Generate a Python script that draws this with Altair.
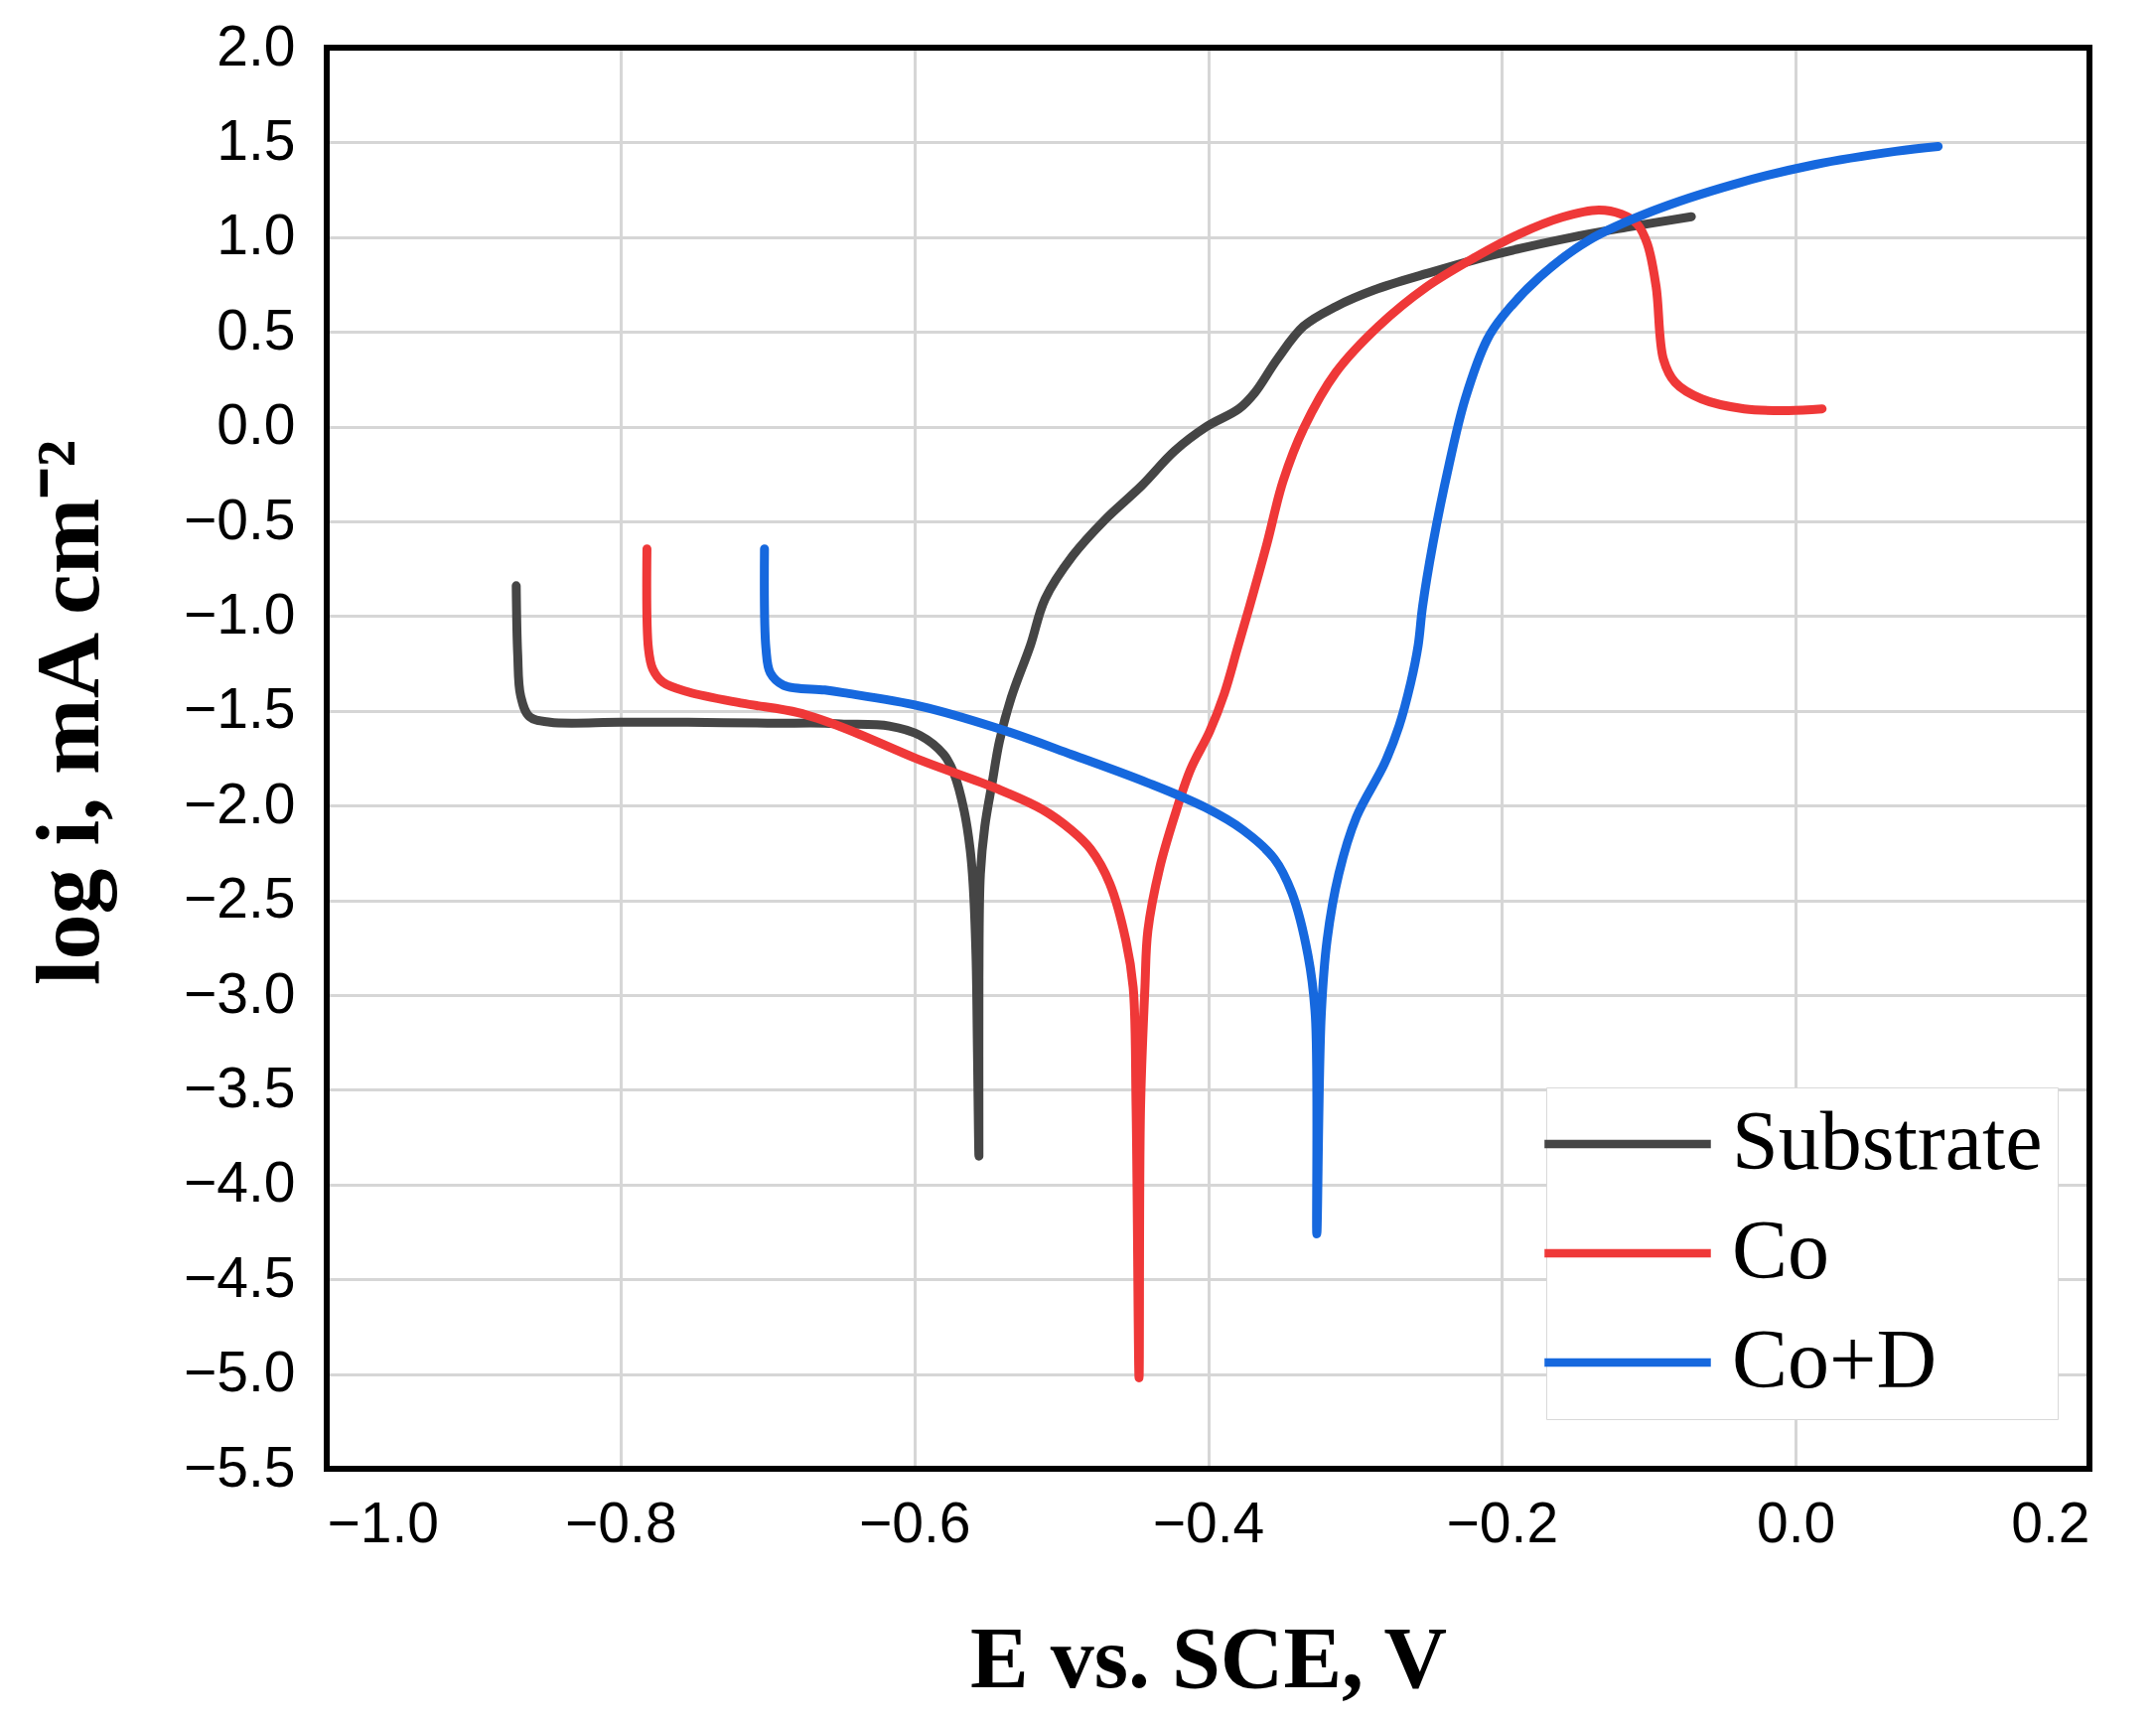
import altair as alt
import pandas as pd

series_names = ["Substrate", "Co", "Co+D"]
series_colors = ["#454545", "#ef3838", "#1668de"]

sub_x = [-0.871, -0.870, -0.868, -0.862, -0.848, -0.800, -0.754, -0.700, -0.661, -0.648, -0.617, -0.596,
         -0.580, -0.573, -0.566, -0.562, -0.560, -0.558, -0.557, -0.556, -0.556, -0.555, -0.552, -0.547,
         -0.542, -0.534, -0.521, -0.511, -0.492, -0.470, -0.445, -0.423, -0.401, -0.379, -0.368, -0.353,
         -0.335, -0.313, -0.287, -0.251, -0.207, -0.152, -0.115, -0.071]
sub_y = [-0.84, -1.20, -1.42, -1.53, -1.56, -1.56, -1.56, -1.565, -1.565, -1.57, -1.58, -1.63,
         -1.73, -1.83, -2.03, -2.23, -2.41, -2.79, -3.30, -3.85, -2.91, -2.36, -2.11, -1.88,
         -1.66, -1.43, -1.155, -0.91, -0.68, -0.49, -0.31, -0.13, 0.0, 0.094, 0.181, 0.355,
         0.530, 0.634, 0.721, 0.808, 0.904, 1.000, 1.052, 1.108]

co_x = [-0.782, -0.781, -0.778, -0.771, -0.754, -0.717, -0.679, -0.648, -0.596, -0.544, -0.513, -0.493,
        -0.480, -0.467, -0.456, -0.451, -0.449, -0.447, -0.446, -0.443, -0.441, -0.433, -0.423, -0.412,
        -0.399, -0.389, -0.380, -0.370, -0.360, -0.349, -0.335, -0.313, -0.284, -0.251, -0.218, -0.188,
        -0.159, -0.134, -0.119, -0.108, -0.101, -0.095, -0.090, -0.082, -0.064, -0.035, -0.005, 0.018]
co_y = [-0.645, -1.17, -1.28, -1.35, -1.40, -1.46, -1.51, -1.59, -1.76, -1.91, -2.02, -2.13,
        -2.23, -2.41, -2.71, -2.96, -3.60, -5.02, -3.60, -2.96, -2.66, -2.33, -2.06, -1.81,
        -1.61, -1.41, -1.17, -0.90, -0.62, -0.289, -0.010, 0.286, 0.530, 0.739, 0.895, 1.017,
        1.105, 1.143, 1.122, 1.070, 0.965, 0.739, 0.355, 0.233, 0.146, 0.094, 0.085, 0.094]

cod_x = [-0.702, -0.701, -0.698, -0.689, -0.661, -0.648, -0.596, -0.544, -0.493, -0.441, -0.402, -0.376,
         -0.355, -0.343, -0.332, -0.327, -0.326, -0.323, -0.319, -0.311, -0.299, -0.280, -0.270, -0.262,
         -0.257, -0.254, -0.247, -0.236, -0.225, -0.210, -0.1995, -0.174, -0.141, -0.097, -0.042, 0.013,
         0.068, 0.097]
cod_y = [-0.645, -1.17, -1.30, -1.365, -1.39, -1.405, -1.475, -1.59, -1.73, -1.88, -2.01, -2.13,
         -2.28, -2.46, -2.79, -3.11, -4.26, -3.11, -2.71, -2.36, -2.06, -1.78, -1.58, -1.35,
         -1.155, -0.95, -0.62, -0.202, 0.146, 0.460, 0.582, 0.791, 0.983, 1.139, 1.279, 1.383,
         1.453, 1.479]

x_ticks = [-1.0, -0.8, -0.6, -0.4, -0.2, 0.0, 0.2]
y_ticks = [2.0, 1.5, 1.0, 0.5, 0.0, -0.5, -1.0, -1.5, -2.0, -2.5, -3.0, -3.5, -4.0, -4.5, -5.0, -5.5]

W, H = 1775, 1431

rows = []
for name, xs, ys in [("Substrate", sub_x, sub_y), ("Co", co_x, co_y), ("Co+D", cod_x, cod_y)]:
    for i, (xv, yv) in enumerate(zip(xs, ys)):
        rows.append({"series": name, "E": xv, "logi": yv, "idx": i})
df = pd.DataFrame(rows)

lines = alt.Chart(df).mark_line(strokeWidth=9, strokeCap="round", strokeJoin="round",
                                interpolate="catmull-rom").encode(
    x=alt.X("E:Q",
            scale=alt.Scale(domain=[-1.0, 0.2], nice=False, zero=False),
            axis=alt.Axis(values=x_ticks, format=".1f", title="E vs. SCE, V",
                          titleY=219, titleBaseline="alphabetic")),
    y=alt.Y("logi:Q",
            scale=alt.Scale(domain=[-5.5, 2.0], nice=False, zero=False),
            axis=alt.Axis(values=y_ticks, format=".1f", title="log i, mA cm⁻²",
                          titleAngle=-90, titleX=-231, titleY=669, titleFontSize=92,
                          titleBaseline="alphabetic", titleAlign="center")),
    color=alt.Color("series:N",
                    scale=alt.Scale(domain=series_names, range=series_colors),
                    legend=alt.Legend(title=None, orient="none", legendX=1228, legendY=1047,
                                      strokeColor="#d9d9d9", fillColor="white", padding=15,
                                      symbolType="M-2.5,0L2.5,0", symbolSize=4489,
                                      symbolStrokeWidth=8.5, symbolOffset=25, labelOffset=63,
                                      labelFont="Liberation Serif", labelFontSize=84,
                                      labelColor="black", labelLimit=600, rowPadding=26)),
    order=alt.Order("idx:Q"),
    detail="series:N",
)

border = alt.Chart(df).mark_rect(fill="transparent", stroke="black", strokeWidth=5).encode(
    x=alt.value(0), x2=alt.value(W), y=alt.value(0), y2=alt.value(H)
)

chart = alt.layer(lines, border).properties(
    width=W, height=H,
    autosize=alt.AutoSizeParams(type="none"),
    padding={"left": 321, "top": 40, "right": 50, "bottom": 240},
).configure_view(
    stroke=None
).configure_axis(
    labelFont="Liberation Sans", labelFontSize=57, labelColor="black",
    ticks=False, domain=False, grid=True, gridColor="#d6d6d6", gridWidth=3,
    labelPadding=28, titleFont="Liberation Serif", titleFontSize=88,
    titleFontWeight="bold", titleColor="black"
).configure_axisY(labelPadding=32)

chart.save("out.html", embed_options={"renderer": "svg", "actions": False})
